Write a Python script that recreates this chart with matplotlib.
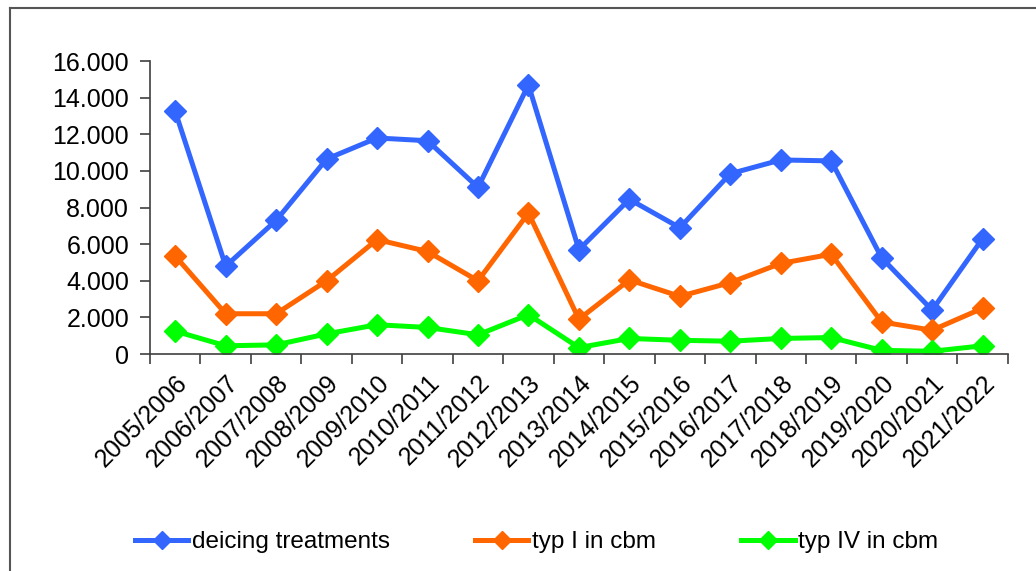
import matplotlib
matplotlib.use("Agg")
import matplotlib.pyplot as plt
from matplotlib.ticker import FuncFormatter, FixedLocator
from matplotlib.lines import Line2D

plt.rcParams["font.family"] = ["Liberation Sans", "DejaVu Sans"]

seasons = ["2005/2006", "2006/2007", "2007/2008", "2008/2009", "2009/2010",
           "2010/2011", "2011/2012", "2012/2013", "2013/2014", "2014/2015",
           "2015/2016", "2016/2017", "2017/2018", "2018/2019", "2019/2020",
           "2020/2021", "2021/2022"]
deicing = [13250, 4800, 7300, 10650, 11800, 11650, 9100, 14700, 5700,
           8450, 6900, 9850, 10600, 10550, 5250, 2400, 6300]
typ1 = [5350, 2200, 2200, 4000, 6250, 5600, 4000, 7700, 1900,
        4050, 3150, 3900, 4950, 5450, 1750, 1300, 2500]
typ4 = [1250, 450, 500, 1100, 1600, 1450, 1050, 2150, 350,
        850, 750, 700, 850, 900, 200, 150, 450]

series = [
    ("deicing treatments", deicing, "#3366FF"),
    ("typ I in cbm", typ1, "#FF6600"),
    ("typ IV in cbm", typ4, "#00FF00"),
]

fig = plt.figure(figsize=(10.36, 5.71), dpi=100)
ax = fig.add_axes([0.1448, 0.380, 0.828, 0.513])

x = list(range(len(seasons)))
for name, vals, color in series:
    ax.plot(x, vals, color=color, lw=3.6, marker="D", markersize=11,
            label=name, solid_joinstyle="round")

ax.set_xlim(-0.5, len(seasons) - 0.5)
ax.set_ylim(0, 16000)
ax.set_yticks(range(0, 16001, 2000))
ax.yaxis.set_major_formatter(FuncFormatter(lambda v, p: f"{int(v):,}".replace(",", ".")))

# category labels at centers, tick marks at the boundaries
ax.set_xticks(x)
ax.set_xticklabels(seasons, rotation=45, ha="right", rotation_mode="anchor")
ax.xaxis.set_minor_locator(FixedLocator([i - 0.5 for i in range(len(seasons) + 1)]))
ax.tick_params(axis="x", which="major", length=0, pad=12, labelsize=18)
ax.tick_params(axis="x", which="minor", length=7, width=1.2, color="#404040")
ax.tick_params(axis="y", length=7, width=1.2, color="#404040", labelsize=18, pad=8)

for s in ["top", "right"]:
    ax.spines[s].set_visible(False)
for s in ["left", "bottom"]:
    ax.spines[s].set_color("#404040")
    ax.spines[s].set_linewidth(1.2)

fig.legend(loc="center", bbox_to_anchor=(0.518, 0.05), ncol=3, frameon=False,
           fontsize=17.5, handlelength=2.2, handletextpad=0.15, columnspacing=3.5,
           markerscale=0.8)

# outer frame (top and left edge only)
fig.add_artist(Line2D([0.0097, 1.0], [0.986, 0.986], color="#555555", lw=1.5,
                      transform=fig.transFigure))
fig.add_artist(Line2D([0.0097, 0.0097], [0.0, 0.986], color="#555555", lw=1.5,
                      transform=fig.transFigure))

fig.savefig("out.png", dpi=100)
